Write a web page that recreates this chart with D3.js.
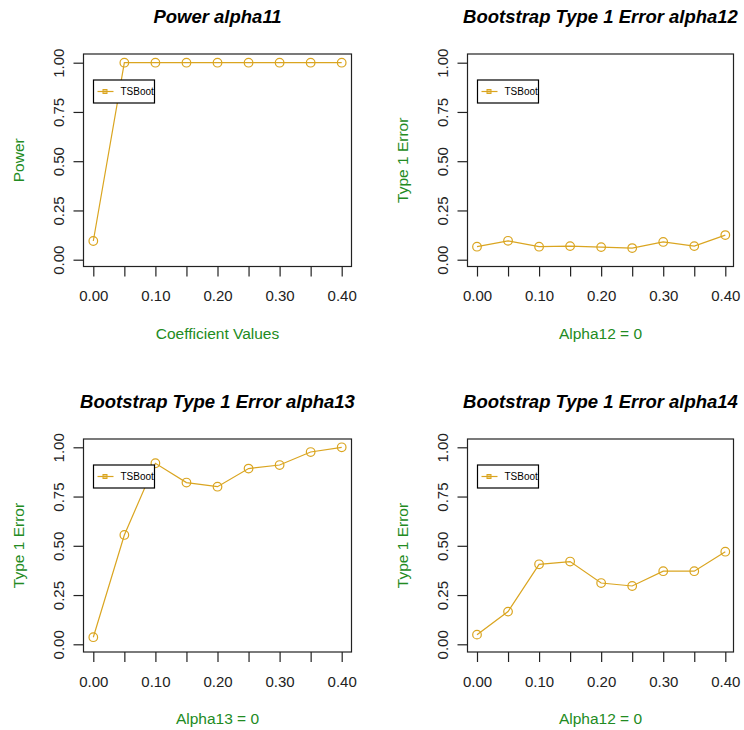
<!DOCTYPE html>
<html>
<head>
<meta charset="utf-8">
<script src="https://cdn.jsdelivr.net/npm/d3@7"></script>
<style>
  body { margin: 0; background: #fff; }
  svg text { font-family: "Liberation Sans", Arial, sans-serif; }
</style>
</head>
<body>
<div id="chart"></div>
<script>
'use strict';

// Data
var coefValues = [0.00, 0.05, 0.10, 0.15, 0.20, 0.25, 0.30, 0.35, 0.40]
var xTicks = [0.00, 0.05, 0.10, 0.15, 0.20, 0.25, 0.30, 0.35, 0.40]
var xTickLabels = ['0.00', '', '0.10', '', '0.20', '', '0.30', '', '0.40']
var yTicks = [0, 0.25, 0.5, 0.75, 1]

var powerAlpha11 = [0.095, 1, 1, 1, 1, 1, 1, 1, 1]
var errorAlpha12 = [0.066, 0.096, 0.066, 0.069, 0.064, 0.059, 0.090, 0.069, 0.125]
var errorAlpha13 = [0.036, 0.555, 0.919, 0.821, 0.800, 0.892, 0.910, 0.976, 1.000]
var errorAlpha14 = [0.049, 0.166, 0.406, 0.420, 0.311, 0.296, 0.371, 0.371, 0.470]

var titles = ['Power alpha11', 'Bootstrap Type 1 Error alpha12',
              'Bootstrap Type 1 Error alpha13', 'Bootstrap Type 1 Error alpha14']
var xLabels = ['Coefficient Values', 'Alpha12 = 0', 'Alpha13 = 0', 'Alpha12 = 0']
var yLabels = ['Power', 'Type 1 Error', 'Type 1 Error', 'Type 1 Error']
var seriesName = 'TSBoot'

var lineColor = '#DAA520'
var labelColor = '#228B22'

// Panel layout: plot box and where the data range maps to
var panels = [
  { values: powerAlpha11, left: 83.5, right: 351.5, top: 54, bottom: 266.5, xr: [93.3, 341.7], yr: [259.7, 62.7], oy: 0 },
  { values: errorAlpha12, left: 467.5, right: 733.5, top: 54, bottom: 266.5, xr: [477, 725.3], yr: [259.7, 62.7], oy: 0 },
  { values: errorAlpha13, left: 83.5, right: 351.5, top: 439, bottom: 652, xr: [93.3, 341.7], yr: [644.3, 447.3], oy: 385 },
  { values: errorAlpha14, left: 467.5, right: 733.5, top: 439, bottom: 652, xr: [477, 725.3], yr: [644.3, 447.3], oy: 385 }
]

var svg = d3.select('#chart').append('svg')
  .attr('width', 744)
  .attr('height', 730)

svg.append('rect').attr('width', 744).attr('height', 730).attr('fill', '#fff')

panels.forEach(function(p, i) {
  var w = p.right - p.left
  var h = p.bottom - p.top
  var x = d3.scaleLinear().domain([0, 0.4]).range(p.xr)
  var y = d3.scaleLinear().domain([0, 1]).range(p.yr)

  var g = svg.append('g')

  // Box
  g.append('rect')
    .attr('x', p.left)
    .attr('y', p.top)
    .attr('width', w)
    .attr('height', h)
    .attr('fill', 'none')
    .attr('stroke', '#222')
    .attr('stroke-width', 1.2)

  // X axis
  var xAxis = d3.axisBottom(x)
    .tickValues(xTicks)
    .tickSize(10)
    .tickPadding(14)
    .tickFormat(function(d, k) { return xTickLabels[k] })
  var xg = g.append('g')
    .attr('transform', 'translate(0,' + p.bottom + ')')
    .call(xAxis)
  xg.select('.domain').remove()
  xg.selectAll('.tick line').attr('stroke', '#222').attr('stroke-width', 1.2)
  xg.selectAll('.tick text')
    .attr('fill', '#222')
    .style('font-size', '15px')

  // Y axis
  var yAxis = d3.axisLeft(y)
    .tickValues(yTicks)
    .tickSize(10)
    .tickFormat(d3.format('.2f'))
  var yg = g.append('g')
    .attr('transform', 'translate(' + p.left + ',0)')
    .call(yAxis)
  yg.select('.domain').remove()
  yg.selectAll('.tick line').attr('stroke', '#222').attr('stroke-width', 1.2)
  yg.selectAll('.tick text')
    .attr('fill', '#222')
    .attr('x', null)
    .attr('dy', null)
    .attr('text-anchor', 'middle')
    .attr('transform', 'translate(-20,0) rotate(-90)')
    .style('font-size', '15px')

  // Title
  g.append('text')
    .attr('x', (p.left + p.right) / 2)
    .attr('y', 23 + p.oy)
    .attr('text-anchor', 'middle')
    .style('font-size', '18.5px')
    .style('font-weight', 'bold')
    .style('font-style', 'italic')
    .attr('fill', '#000')
    .text(titles[i])

  // Axis labels
  g.append('text')
    .attr('x', (p.left + p.right) / 2)
    .attr('y', p.bottom + 72)
    .attr('text-anchor', 'middle')
    .style('font-size', '15.5px')
    .attr('fill', labelColor)
    .text(xLabels[i])

  g.append('text')
    .attr('transform', 'translate(' + (p.left - 60) + ',' + ((p.top + p.bottom) / 2) + ') rotate(-90)')
    .attr('text-anchor', 'middle')
    .style('font-size', '15.5px')
    .attr('fill', labelColor)
    .text(yLabels[i])

  // Line
  var line = d3.line()
    .x(function(d, k) { return x(coefValues[k]) })
    .y(function(d) { return y(d) })
  g.append('path')
    .datum(p.values)
    .attr('fill', 'none')
    .attr('stroke', lineColor)
    .attr('stroke-width', 1.2)
    .attr('d', line)

  g.selectAll('circle.pt')
    .data(p.values)
    .enter().append('circle')
      .attr('class', 'pt')
      .attr('cx', function(d, k) { return x(coefValues[k]) })
      .attr('cy', function(d) { return y(d) })
      .attr('r', 4.3)
      .attr('fill', 'none')
      .attr('stroke', lineColor)
      .attr('stroke-width', 1.2)

  // Legend
  var lx = p.left + 10, ly = p.top + 26
  var lg = g.append('g').attr('transform', 'translate(' + lx + ',' + ly + ')')
  lg.append('rect')
    .attr('x', 0).attr('y', 0)
    .attr('width', 61).attr('height', 23)
    .attr('fill', '#fff')
    .attr('stroke', '#000')
    .attr('stroke-width', 1.2)
  lg.append('line')
    .attr('x1', 4).attr('x2', 20)
    .attr('y1', 11.5).attr('y2', 11.5)
    .attr('stroke', lineColor)
    .attr('stroke-width', 1.2)
  lg.append('rect')
    .attr('x', 9.5).attr('y', 9.5)
    .attr('width', 4).attr('height', 4)
    .attr('fill', lineColor)
    .attr('fill-opacity', 0.5)
    .attr('stroke', lineColor)
    .attr('stroke-width', 1)
  lg.append('text')
    .attr('x', 27)
    .attr('y', 15)
    .style('font-size', '10px')
    .attr('fill', '#000')
    .text(seriesName)
})
</script>
</body>
</html>
